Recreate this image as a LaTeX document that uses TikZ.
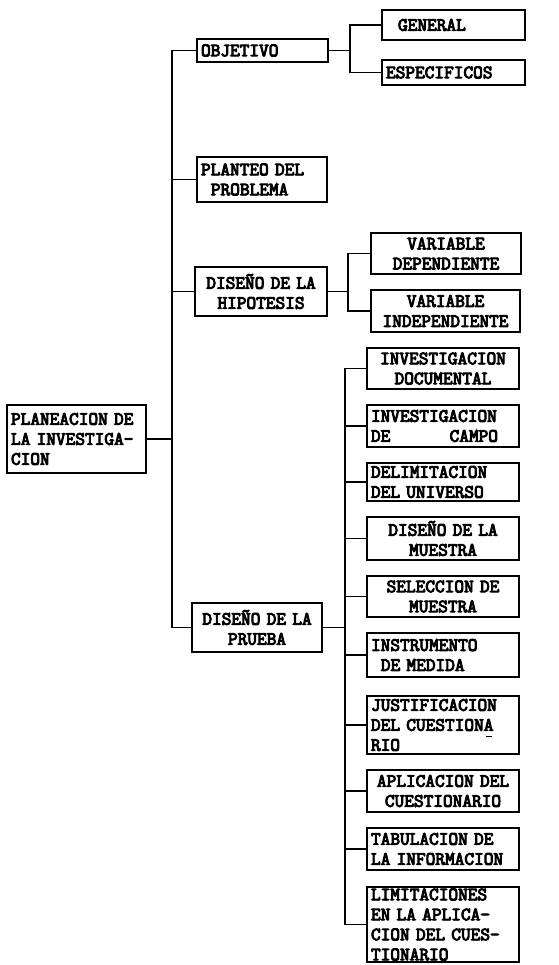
\documentclass[tikz,border=0pt]{standalone}
\usepackage{fontspec}
\newfontfamily\mono[FakeBold=5]{Latin Modern Mono}
\begin{document}
\begin{tikzpicture}[x=1pt,y=-1pt,
  box/.style={draw, line width=1.8pt, inner xsep=4pt, inner ysep=1pt,
    font=\mono\fontsize{18.8}{20}\selectfont},
  kid/.style={box, text width=144pt},
  conn/.style={line width=1.8pt, line cap=rect}]
\fill[white] (0,0) rectangle (558,965);
\useasboundingbox (0,0) rectangle (558,965);

% level 0
\node[box, text width=131pt, minimum height=68pt, align=left] (root) at (76.5,439)
  {PLANEACION DE\\LA INVESTIGA-\\CION};

% level 1
\node[box, text width=123pt, minimum height=23pt, align=left] (objetivo) at (262.5,50.5) {OBJETIVO};
\node[box, text width=122pt, minimum height=45pt, align=left] (planteo) at (262,179.5)
  {PLANTEO DEL\\\hspace*{0.525em}PROBLEMA};
\node[box, text width=124pt, minimum height=49pt, align=center] (hipotesis) at (261,291.5)
  {DISEÑO DE LA\\HIPOTESIS};
\node[box, text width=122pt, minimum height=49pt, align=center] (prueba) at (257,627.5)
  {DISEÑO DE LA\\PRUEBA};

% level 2: objetivo
\node[box, text width=135pt, minimum height=30pt, align=left] (general) at (453.5,25)
  {\hspace*{12pt}GENERAL};
\node[box, text width=135pt, minimum height=25pt, align=left] (especificos) at (453.5,72.5)
  {ESPECIFICOS};

% level 2: hipotesis
\node[box, text width=142pt, minimum height=41pt, align=center] (vardep) at (446,253.5)
  {VARIABLE\\DEPENDIENTE};
\node[box, text width=141pt, minimum height=42pt, align=center] (varindep) at (445.5,311)
  {VARIABLE\\INDEPENDIENTE};

% level 2: prueba
\node[kid, minimum height=41pt, align=center] (d1) at (443,368.5) {INVESTIGACION\\DOCUMENTAL};
\node[kid, minimum height=42pt, align=left] (d2) at (443,426) {INVESTIGACION\\DE\hspace{3.15em}CAMPO};
\node[kid, minimum height=38pt, align=left] (d3) at (443,482) {DELIMITACION\\DEL UNIVERSO};
\node[kid, minimum height=43pt, align=center] (d4) at (443,538.5) {DISEÑO DE LA\\MUESTRA};
\node[kid, minimum height=41pt, align=center] (d5) at (443,596.5) {SELECCION DE\\MUESTRA};
\node[kid, minimum height=44pt, align=left] (d6) at (443,655) {INSTRUMENTO\\\hspace*{0.525em}DE MEDIDA};
\node[kid, minimum height=58pt, align=left] (d7) at (443,725)
  {JUSTIFICACION\\DEL CUESTIONA\rlap{\hspace*{-0.4em}\rule[-0.35em]{0.3em}{1.8pt}}\\RIO};
\node[kid, minimum height=42pt, align=center] (d8) at (443,791) {APLICACION DEL\\CUESTIONARIO};
\node[kid, minimum height=42pt, align=left] (d9) at (443,849) {TABULACION DE\\LA INFORMACION};
\node[kid, minimum height=75pt, align=left] (d10) at (443,924.5)
  {LIMITACIONES\\EN LA APLICA-\\CION DEL CUES-\\TIONARIO};

% connectors level 0 -> 1
\coordinate (t) at (172,0);
\draw[conn] (root.east) -- (root.east -| t);
\draw[conn] (objetivo.west) -- (objetivo.west -| t) -- (prueba.west -| t) -- (prueba.west);
\draw[conn] (planteo.west) -- (planteo.west -| t);
\draw[conn] (hipotesis.west) -- (hipotesis.west -| t);

% objetivo -> children
\coordinate (a) at (350,0);
\draw[conn] (objetivo.east) -- (objetivo.east -| a);
\draw[conn] (general.west) -- (general.west -| a) -- (especificos.west -| a) -- (especificos.west);

% hipotesis -> children
\coordinate (b) at (348,0);
\draw[conn] (hipotesis.east) -- (hipotesis.east -| b);
\draw[conn] (vardep.west) -- (vardep.west -| b) -- (varindep.west -| b) -- (varindep.west);

% prueba -> children
\coordinate (c) at (345,0);
\draw[conn] (prueba.east) -- (prueba.east -| c);
\draw[conn] (d1.west) -- (d1.west -| c) -- (d10.west -| c) -- (d10.west);
\foreach \n in {d2,d3,d4,d5,d6,d7,d8,d9}
  \draw[conn] (\n.west) -- (\n.west -| c);
\end{tikzpicture}
\end{document}
